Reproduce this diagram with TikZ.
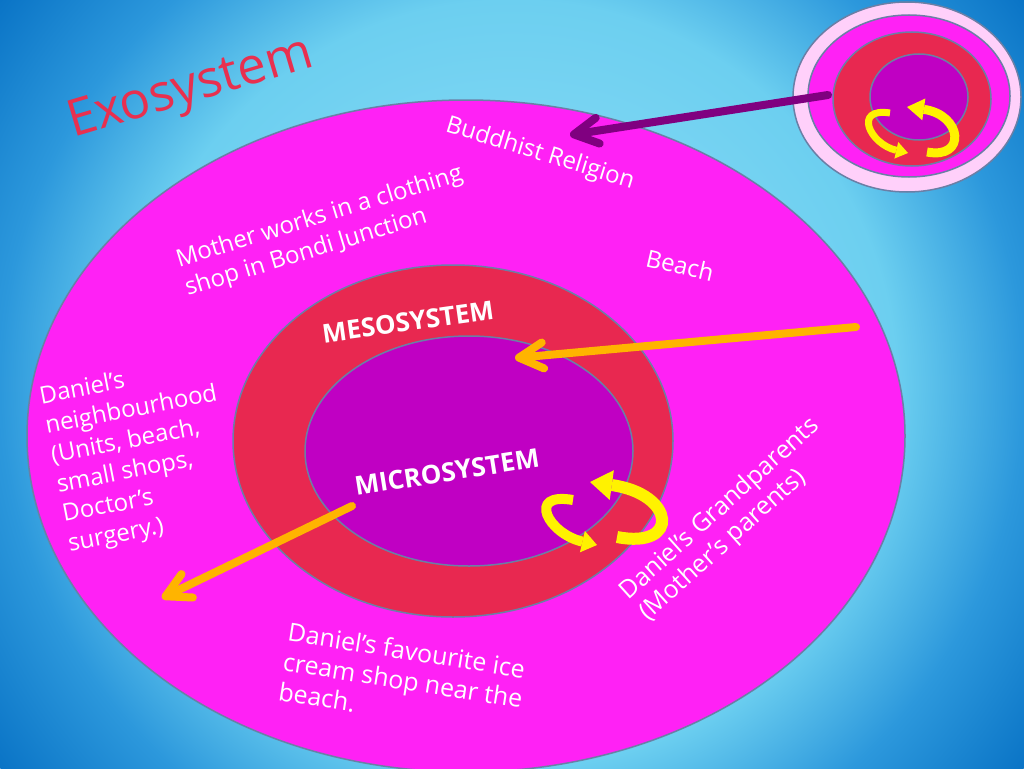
\documentclass[tikz,border=0pt]{standalone}
\usepackage{fontspec}
\setmainfont{Open Sans}
\usetikzlibrary{arrows.meta}
\definecolor{exo}{RGB}{255,33,245}
\definecolor{meso}{RGB}{232,40,80}
\definecolor{micro}{RGB}{192,0,195}
\definecolor{pale}{RGB}{255,208,250}
\definecolor{rim}{RGB}{107,127,166}
\definecolor{amber}{RGB}{255,180,0}
\definecolor{plum}{RGB}{128,0,128}
\definecolor{exotext}{RGB}{232,48,79}
\definecolor{bgin}{RGB}{150,224,248}
\definecolor{bgmid}{RGB}{108,207,240}
\definecolor{bgedge}{RGB}{44,152,220}
\definecolor{bgout}{RGB}{10,116,198}
\pgfdeclareradialshading{slide}{\pgfpoint{0bp}{0bp}}{color(0bp)=(bgin); color(15bp)=(bgmid); color(20bp)=(bgedge); color(25bp)=(bgout); color(50bp)=(bgout)}

\begin{document}
\begin{tikzpicture}[x=1pt,y=-1pt]
\def\l{24pt}
\def\w{26pt}
\def\r{1.5pt}
\useasboundingbox (0,0) rectangle (1024,768);
\clip (0,0) rectangle (1024,768);
\shade [shading=slide] (512,384) circle (640pt);

\draw [rim, line width=\r, fill=exo] (466,436) ellipse [x radius=439pt, y radius=336pt];
\draw [rim, line width=\r, fill=meso] (453,441) ellipse [x radius=220pt, y radius=176pt];
\draw [rim, line width=\r, fill=micro] (469,451) ellipse [x radius=164pt, y radius=115pt];

\draw [rim, line width=\r, fill=pale] (907,97) ellipse [x radius=114pt, y radius=95pt];
\draw [rim, line width=\r, fill=exo] (909,96) ellipse [x radius=101pt, y radius=81pt];
\draw [rim, line width=\r, fill=meso] (912,99) ellipse [x radius=79pt, y radius=67pt];
\draw [rim, line width=\r, fill=micro] (919,97) ellipse [x radius=49pt, y radius=43pt];

\node [text=exotext, rotate=16.5, font=\fontsize{51}{60}\selectfont, name=exolabel] at (191,90) {Exosystem};
\node [text=white, rotate=-17, font=\fontsize{24}{28}\selectfont, name=religion] at (540,154) {Buddhist Religion};
\node [text=white, rotate=17, align=left, font=\fontsize{24}{30}\selectfont, name=work] at (324,232) {Mother works in a clothing\\shop in Bondi Junction};
\node [text=white, rotate=-13, font=\fontsize{24}{30}\selectfont, name=beach] at (680,265) {Beach};
\node [text=white, rotate=8, font=\bfseries\fontsize{26}{30}\selectfont, name=mesolabel] at (408,322) {MESOSYSTEM};
\node [text=white, rotate=9, font=\bfseries\fontsize{26}{30}\selectfont, name=microlabel] at (447,472) {MICROSYSTEM};
\node [text=white, rotate=11, align=left, font=\fontsize{24}{30}\selectfont, name=hood] at (140,455) {Daniel’s\\neighbourhood\\(Units, beach,\\small shops,\\Doctor’s\\surgery.)};
\node [text=white, rotate=42, align=left, font=\fontsize{25}{29}\selectfont, name=gran] at (730,520) {Daniel’s Grandparents\\(Mother’s parents)};
\node [text=white, rotate=-9, align=left, font=\fontsize{25}{30}\selectfont, name=icecream] at (403,680) {Daniel’s favourite ice\\cream shop near the\\beach.};

\coordinate (p1) at (828,95);
\coordinate (p2) at (570,135);
\coordinate (o1) at (856,327);
\coordinate (o2) at (515,358);
\coordinate (o3) at (352,506);
\coordinate (o4) at (162,598);
\coordinate (y1) at (617,537);
\coordinate (y2) at (590,482);
\coordinate (y3) at (573,500);
\coordinate (y4) at (597,545);
\coordinate (y5) at (927,152);
\coordinate (y6) at (907,107);
\coordinate (y7) at (890,113);
\coordinate (y8) at (908,153);

\draw [plum, line width=8pt, line cap=round, -{Straight Barb[length=\l, width=\w, round]}](p1) to (p2);
\draw [amber, line width=8pt, line cap=round, -{Straight Barb[length=\l, width=\w, round]}](o1) to (o2);
\draw [amber, line width=8pt, line cap=round, -{Straight Barb[length=\l, width=\w, round]}](o3) to (o4);

\draw [yellow, line width=12pt, -{Triangle[length=22pt, width=30pt, line width=0pt]}](y1) to [out=-11, in=-8, out looseness=2.7, in looseness=3.6](y2);
\draw [yellow, line width=10pt, -{Triangle[length=15pt, width=22pt, line width=0pt]}](y3) to [out=170, in=167, out looseness=2.4, in looseness=2.5](y4);
\draw [yellow, line width=9pt, -{Triangle[length=17pt, width=22pt, line width=0pt]}](y5) to [out=-11, in=-8, out looseness=2.1, in looseness=2.9](y6);
\draw [yellow, line width=7pt, -{Triangle[length=12pt, width=17pt, line width=0pt]}](y7) to [out=171, in=167, out looseness=2.2, in looseness=2.3](y8);
\end{tikzpicture}
\end{document}
